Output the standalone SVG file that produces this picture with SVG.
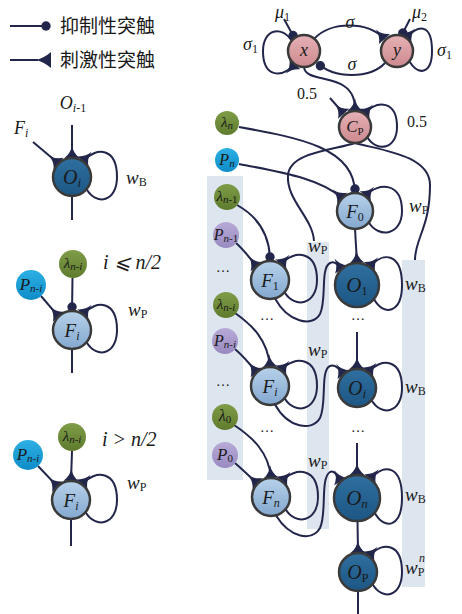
<svg xmlns="http://www.w3.org/2000/svg" width="462" height="614" viewBox="0 0 462 614">
<style>
.edge{fill:none;stroke:#22264a;stroke-width:2}
.nd{stroke:#3a3a3a;stroke-width:2.5}
.t{font-family:"Liberation Serif","DejaVu Serif",serif;fill:#1a1a1a}
.i{font-style:italic}
.cjk{font-family:"Liberation Sans","Noto Sans CJK SC",sans-serif;font-size:19px;fill:#1a1a1a}
.panel{fill:#dde5ef}
</style>
<defs>
<marker id="exc" markerUnits="userSpaceOnUse" viewBox="-14 -9 15 18" refX="0" refY="0" markerWidth="15" markerHeight="18" orient="auto"><path d="M-13,0 Q-5,-1 0,-7.5 L0,7.5 Q-5,1 -13,0Z" fill="#22264a"/></marker>
<marker id="inh" markerUnits="userSpaceOnUse" viewBox="-10 -6 12 12" refX="0" refY="0" markerWidth="12" markerHeight="12" orient="auto"><circle cx="-4" cy="0" r="4.7" fill="#22264a"/></marker>
<linearGradient id="gPink" x1="0" y1="0" x2="0" y2="1"><stop offset="0" stop-color="#e6b1b5"/><stop offset="1" stop-color="#cc8a90"/></linearGradient>
<linearGradient id="gF" x1="0" y1="0" x2="0" y2="1"><stop offset="0" stop-color="#b7d1ea"/><stop offset="1" stop-color="#83a8cf"/></linearGradient>
<linearGradient id="gO" x1="0" y1="0" x2="0" y2="1"><stop offset="0" stop-color="#2f6f9f"/><stop offset="1" stop-color="#1c5684"/></linearGradient>
<linearGradient id="gG" x1="0" y1="0" x2="0" y2="1"><stop offset="0" stop-color="#7f9c48"/><stop offset="1" stop-color="#5f7c2e"/></linearGradient>
<linearGradient id="gB" x1="0" y1="0" x2="0" y2="1"><stop offset="0" stop-color="#2db0e4"/><stop offset="1" stop-color="#0e8cc8"/></linearGradient>
<linearGradient id="gV" x1="0" y1="0" x2="0" y2="1"><stop offset="0" stop-color="#b7aad7"/><stop offset="1" stop-color="#998ac0"/></linearGradient>
</defs>

<g id="legend">
<path class="edge" d="M10,26 L50,26" marker-end="url(#inh)"/>
<text class="cjk" x="60" y="33">抑制性突触</text>
<path class="edge" d="M10,60 L38,60"/>
<path d="M36,60 Q44,58 51,52 L51,68 Q44,62 36,60Z" fill="#22264a"/>
<text class="cjk" x="60" y="67">刺激性突触</text>
</g>

<g id="panels">
<rect class="panel" x="207" y="176" width="36" height="304"/>
<rect class="panel" x="307" y="242" width="22" height="287"/>
<rect class="panel" x="402" y="260" width="23" height="327"/>
</g>

<g id="connectors">
<path class="edge" d="M72,125 L72,158" marker-end="url(#exc)"/>
<path class="edge" d="M33,142 L58.6,163.6" marker-end="url(#exc)"/>
<path class="edge" d="M86.6,189.2 C96.6,206 117,202 117,177 C117,148 96.8,146 82.8,161.4" marker-end="url(#exc)"/>
<path class="edge" d="M72,196 L72,220"/>

<path class="edge" d="M72.5,278 L72,311" marker-end="url(#inh)"/>
<path class="edge" d="M41,296 L58.6,316.6" marker-end="url(#exc)"/>
<path class="edge" d="M86.6,342.2 C96.6,359 117,355 117,330 C117,301 96.8,299 82.8,314.4" marker-end="url(#exc)"/>
<path class="edge" d="M72,349 L72,373"/>

<path class="edge" d="M72,451 L71,481" marker-end="url(#exc)"/>
<path class="edge" d="M38,466 L57.6,486.6" marker-end="url(#exc)"/>
<path class="edge" d="M85.6,512.2 C95.6,529 117,525 117,500 C117,471 95.8,469 81.8,484.4" marker-end="url(#exc)"/>
<path class="edge" d="M71,519 L71,546"/>

<path class="edge" d="M284,19 L295,39" marker-end="url(#inh)"/>
<path class="edge" d="M410,19 L401,36.5" marker-end="url(#inh)"/>
<path class="edge" d="M291.7,40.8 C281.7,25 263,29 263,51 C263,77 280.9,79 294.9,64.1" marker-end="url(#exc)"/>
<path class="edge" d="M409.3,61.2 C419.3,77 432,73 432,51 C432,25 420.1,23 406.1,37.9" marker-end="url(#exc)"/>
<path class="edge" d="M314,39 C330,21 368,21 384.5,39" marker-end="url(#exc)"/>
<path class="edge" d="M385,63 C370,79 334,79 317.5,63" marker-end="url(#inh)"/>
<path class="edge" d="M304,67 C305,80 330,76 344,86 C353,92 355,100 355,111" marker-end="url(#exc)"/>
<path class="edge" d="M330,98 L343.7,113.7" marker-end="url(#exc)"/>
<path class="edge" d="M367.3,137.2 C377.3,153 397,149 397,127 C397,101 378.1,99 364.1,113.9" marker-end="url(#exc)"/>
<path class="edge" d="M355,143 C335,150 290,152 288,175 C286,200 313,218 314,241"/>
<path class="edge" d="M355,143 C380,150 430,155 430,185 C430,228 415,238 415,260"/>

<path class="edge" d="M239,127 C300,138 355,148 355,193" marker-end="url(#inh)"/>
<path class="edge" d="M239,164 C280,172 320,178 342.3,198.3" marker-end="url(#exc)"/>
<path class="edge" d="M368.9,222.5 C378.9,239 402,235 402,211 C402,183 379.3,181 365.3,196.2" marker-end="url(#exc)"/>
<path class="edge" d="M355,229 L357,263" marker-end="url(#exc)"/>

<path class="edge" d="M237,205 C255,215 270,232 270,261" marker-end="url(#inh)"/>
<path class="edge" d="M236,243 C244,250 250,258 256.6,266.6" marker-end="url(#exc)"/>
<path class="edge" d="M284.6,292.2 C294.6,309 317,305 317,280 C317,251 294.8,249 280.8,264.4" marker-end="url(#exc)"/>
<path class="edge" d="M275,298.5 C288,322 312,328 320,314 C327,300 320,268 330,263 C334,261 338,264 341.4,269.4" marker-end="url(#exc)"/>
<path class="edge" d="M373.9,299.1 C383.9,317 402,313 402,285 C402,253 383.5,251 369.5,267" marker-end="url(#exc)"/>

<path class="edge" d="M235,313 C252,325 268,340 270,367" marker-end="url(#exc)"/>
<path class="edge" d="M235,349 C243,356 250,364 256.6,372.6" marker-end="url(#exc)"/>
<path class="edge" d="M284.6,398.2 C294.6,415 317,411 317,386 C317,357 294.8,355 280.8,370.4" marker-end="url(#exc)"/>
<path class="edge" d="M275,404.5 C288,428 312,432 320,418 C327,404 320,370 330,366 C334,364 339,368 343.6,374.6" marker-end="url(#exc)"/>
<path class="edge" d="M357,332 L357,369" marker-end="url(#exc)"/>
<path class="edge" d="M371.6,400.2 C381.6,417 402,413 402,388 C402,359 381.8,357 367.8,372.4" marker-end="url(#exc)"/>

<path class="edge" d="M234,425 C252,437 269,452 271,478" marker-end="url(#exc)"/>
<path class="edge" d="M235,463 C243,470 250,477 257.6,483.6" marker-end="url(#exc)"/>
<path class="edge" d="M285.6,509.2 C295.6,526 318,522 318,497 C318,468 295.8,466 281.8,481.4" marker-end="url(#exc)"/>
<path class="edge" d="M276,515.5 C290,538 312,542 320,528 C327,514 320,478 330,472 C334,470 337,475 340.7,481.7" marker-end="url(#exc)"/>
<path class="edge" d="M357,443 L357,475" marker-end="url(#exc)"/>
<path class="edge" d="M374.7,512.7 C384.7,531 402,527 402,498 C402,465 384.1,463 370.1,479.1" marker-end="url(#exc)"/>
<path class="edge" d="M357.5,521 L358,553" marker-end="url(#exc)"/>
<path class="edge" d="M372.6,584.2 C382.6,601 402,597 402,572 C402,543 382.8,541 368.8,556.4" marker-end="url(#exc)"/>
<path class="edge" d="M358,591 L358,614"/>
</g>

<g id="exO"><circle class="nd" cx="72" cy="177" r="19" fill="url(#gO)"/><text class="t" x="72" y="184" text-anchor="middle" font-size="20"><tspan class="i">O</tspan><tspan class="i" font-size="13" dy="3">i</tspan></text></g>
<g id="exF1"><circle class="nd" cx="72" cy="330" r="19" fill="url(#gF)"/><text class="t" x="72" y="337" text-anchor="middle" font-size="19"><tspan class="i">F</tspan><tspan class="i" font-size="12" dy="3">i</tspan></text></g>
<g id="exL1"><circle cx="73" cy="264" r="14" fill="url(#gG)"/><text class="t" x="73" y="268" text-anchor="middle" font-size="15"><tspan class="i">λ</tspan><tspan class="i" font-size="11" dy="2">n-i</tspan></text></g>
<g id="exP1"><circle cx="31" cy="285" r="15" fill="url(#gB)"/><text class="t" x="31" y="290" text-anchor="middle" font-size="17"><tspan class="i">P</tspan><tspan class="i" font-size="11" dy="2">n-i</tspan></text></g>
<g id="exF2"><circle class="nd" cx="71" cy="500" r="19" fill="url(#gF)"/><text class="t" x="71" y="507" text-anchor="middle" font-size="19"><tspan class="i">F</tspan><tspan class="i" font-size="12" dy="3">i</tspan></text></g>
<g id="exL2"><circle cx="72" cy="437" r="14" fill="url(#gG)"/><text class="t" x="72" y="441" text-anchor="middle" font-size="15"><tspan class="i">λ</tspan><tspan class="i" font-size="11" dy="2">n-i</tspan></text></g>
<g id="exP2"><circle cx="28" cy="455" r="15" fill="url(#gB)"/><text class="t" x="28" y="460" text-anchor="middle" font-size="17"><tspan class="i">P</tspan><tspan class="i" font-size="11" dy="2">n-i</tspan></text></g>

<g id="exLabels">
<text class="t" x="73" y="109" text-anchor="middle" font-size="18"><tspan class="i">O</tspan><tspan class="i" font-size="12" dy="3">i</tspan><tspan font-size="12">-1</tspan></text>
<text class="t" x="14" y="134" font-size="18"><tspan class="i">F</tspan><tspan class="i" font-size="12" dy="3">i</tspan></text>
<text class="t" x="126" y="184" font-size="19"><tspan class="i">w</tspan><tspan font-size="12" dy="2">B</tspan></text>
<text class="t i" x="103" y="269" font-size="20">i ⩽ n/2</text>
<text class="t" x="128" y="316" font-size="19"><tspan class="i">w</tspan><tspan font-size="12" dy="2">P</tspan></text>
<text class="t i" x="102" y="446" font-size="20">i &gt; n/2</text>
<text class="t" x="127" y="489" font-size="19"><tspan class="i">w</tspan><tspan font-size="12" dy="2">P</tspan></text>
</g>

<g id="nx"><circle class="nd" cx="304" cy="51" r="16" fill="url(#gPink)"/><text class="t i" x="304" y="56" text-anchor="middle" font-size="18">x</text></g>
<g id="ny"><circle class="nd" cx="397" cy="51" r="16" fill="url(#gPink)"/><text class="t i" x="397" y="56" text-anchor="middle" font-size="18">y</text></g>
<g id="nCp"><circle class="nd" cx="355" cy="127" r="16" fill="url(#gPink)"/><text class="t" x="355" y="132" text-anchor="middle" font-size="17"><tspan class="i">C</tspan><tspan font-size="11" dy="3">P</tspan></text></g>
<g id="nLn"><circle cx="227" cy="123" r="12" fill="url(#gG)"/><text class="t" x="227" y="127" text-anchor="middle" font-size="15"><tspan class="i">λ</tspan><tspan class="i" font-size="11" dy="2">n</tspan></text></g>
<g id="nPn"><circle cx="227" cy="160" r="12" fill="url(#gB)"/><text class="t" x="227" y="165" text-anchor="middle" font-size="16"><tspan class="i">P</tspan><tspan class="i" font-size="11" dy="2">n</tspan></text></g>
<g id="nF0"><circle class="nd" cx="355" cy="211" r="18" fill="url(#gF)"/><text class="t" x="355" y="218" text-anchor="middle" font-size="19"><tspan class="i">F</tspan><tspan font-size="12" dy="3">0</tspan></text></g>
<g id="nLn1"><circle cx="227" cy="197" r="13" fill="url(#gG)"/><text class="t" x="227" y="201" text-anchor="middle" font-size="15"><tspan class="i">λ</tspan><tspan class="i" font-size="11" dy="2">n</tspan><tspan font-size="11">-1</tspan></text></g>
<g id="nPn1"><circle cx="226" cy="235" r="13" fill="url(#gV)"/><text class="t" x="226" y="240" text-anchor="middle" font-size="16"><tspan class="i">P</tspan><tspan class="i" font-size="11" dy="2">n</tspan><tspan font-size="11">-1</tspan></text></g>
<g id="nF1"><circle class="nd" cx="270" cy="280" r="19" fill="url(#gF)"/><text class="t" x="270" y="287" text-anchor="middle" font-size="19"><tspan class="i">F</tspan><tspan font-size="12" dy="3">1</tspan></text></g>
<g id="nO1"><circle class="nd" cx="357" cy="285" r="22" fill="url(#gO)"/><text class="t" x="357" y="292" text-anchor="middle" font-size="21"><tspan class="i">O</tspan><tspan font-size="13" dy="3">1</tspan></text></g>
<g id="nLni"><circle cx="226" cy="305" r="13" fill="url(#gG)"/><text class="t" x="226" y="309" text-anchor="middle" font-size="15"><tspan class="i">λ</tspan><tspan class="i" font-size="11" dy="2">n-i</tspan></text></g>
<g id="nPni"><circle cx="225" cy="341" r="13" fill="url(#gV)"/><text class="t" x="225" y="346" text-anchor="middle" font-size="16"><tspan class="i">P</tspan><tspan class="i" font-size="11" dy="2">n-i</tspan></text></g>
<g id="nFi"><circle class="nd" cx="270" cy="386" r="19" fill="url(#gF)"/><text class="t" x="270" y="393" text-anchor="middle" font-size="19"><tspan class="i">F</tspan><tspan class="i" font-size="12" dy="3">i</tspan></text></g>
<g id="nOi"><circle class="nd" cx="357" cy="388" r="19" fill="url(#gO)"/><text class="t" x="357" y="395" text-anchor="middle" font-size="20"><tspan class="i">O</tspan><tspan class="i" font-size="13" dy="3">i</tspan></text></g>
<g id="nL0"><circle cx="225" cy="417" r="13" fill="url(#gG)"/><text class="t" x="225" y="421" text-anchor="middle" font-size="16"><tspan class="i">λ</tspan><tspan font-size="11" dy="2">0</tspan></text></g>
<g id="nP0"><circle cx="225" cy="455" r="13" fill="url(#gV)"/><text class="t" x="225" y="460" text-anchor="middle" font-size="17"><tspan class="i">P</tspan><tspan font-size="11" dy="2">0</tspan></text></g>
<g id="nFn"><circle class="nd" cx="271" cy="497" r="19" fill="url(#gF)"/><text class="t" x="271" y="504" text-anchor="middle" font-size="19"><tspan class="i">F</tspan><tspan class="i" font-size="12" dy="3">n</tspan></text></g>
<g id="nOn"><circle class="nd" cx="357" cy="498" r="23" fill="url(#gO)"/><text class="t" x="357" y="505" text-anchor="middle" font-size="21"><tspan class="i">O</tspan><tspan class="i" font-size="13" dy="3">n</tspan></text></g>
<g id="nOp"><circle class="nd" cx="358" cy="572" r="19" fill="url(#gO)"/><text class="t" x="358" y="579" text-anchor="middle" font-size="20"><tspan class="i">O</tspan><tspan font-size="13" dy="3">P</tspan></text></g>

<g id="labels">
<text class="t" x="275" y="18" font-size="18"><tspan class="i">μ</tspan><tspan font-size="12" dy="3">1</tspan></text>
<text class="t" x="412" y="18" font-size="18"><tspan class="i">μ</tspan><tspan font-size="12" dy="3">2</tspan></text>
<text class="t" x="243" y="50" font-size="18"><tspan class="i">σ</tspan><tspan font-size="12" dy="3">1</tspan></text>
<text class="t" x="437" y="56" font-size="18"><tspan class="i">σ</tspan><tspan font-size="12" dy="3">1</tspan></text>
<text class="t i" x="350" y="28" text-anchor="middle" font-size="18">σ</text>
<text class="t i" x="352" y="70" text-anchor="middle" font-size="18">σ</text>
<text class="t" x="297" y="99" font-size="16">0.5</text>
<text class="t" x="407" y="127" font-size="16">0.5</text>
<text class="t" x="409" y="212" font-size="19"><tspan class="i">w</tspan><tspan font-size="12" dy="2">P</tspan></text>
<text class="t" x="308" y="252" font-size="19"><tspan class="i">w</tspan><tspan font-size="12" dy="2">P</tspan></text>
<text class="t" x="308" y="356" font-size="19"><tspan class="i">w</tspan><tspan font-size="12" dy="2">P</tspan></text>
<text class="t" x="308" y="467" font-size="19"><tspan class="i">w</tspan><tspan font-size="12" dy="2">P</tspan></text>
<text class="t" x="405" y="290" font-size="19"><tspan class="i">w</tspan><tspan font-size="12" dy="2">B</tspan></text>
<text class="t" x="405" y="393" font-size="19"><tspan class="i">w</tspan><tspan font-size="12" dy="2">B</tspan></text>
<text class="t" x="405" y="501" font-size="19"><tspan class="i">w</tspan><tspan font-size="12" dy="2">B</tspan></text>
<text class="t" x="405" y="574" font-size="19"><tspan class="i">w</tspan><tspan font-size="12" dy="2">P</tspan></text>
<text class="t i" x="419" y="562" font-size="12">n</text>
<text class="t" x="223" y="272" text-anchor="middle" font-size="14">…</text>
<text class="t" x="223" y="386" text-anchor="middle" font-size="14">…</text>
<text class="t" x="267" y="320" text-anchor="middle" font-size="14">…</text>
<text class="t" x="358" y="320" text-anchor="middle" font-size="14">…</text>
<text class="t" x="267" y="432" text-anchor="middle" font-size="14">…</text>
<text class="t" x="358" y="432" text-anchor="middle" font-size="14">…</text>
</g>
</svg>
